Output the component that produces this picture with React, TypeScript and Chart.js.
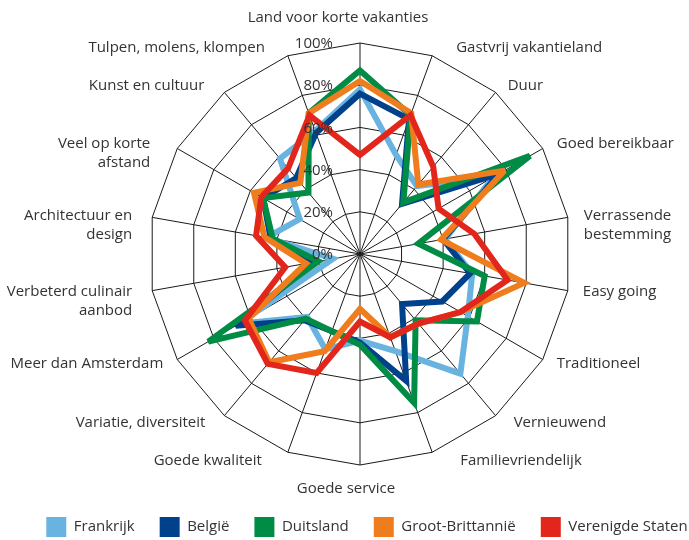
import React, { useEffect, useRef } from "react";
import { Chart, registerables } from "chart.js";

Chart.register(...registerables);

const categories: (string | string[])[] = [
  "Land voor korte vakanties",
  "Gastvrij vakantieland",
  "Duur",
  "Goed bereikbaar",
  ["Verrassende", "bestemming"],
  "Easy going",
  "Traditioneel",
  "Vernieuwend",
  "Familievriendelijk",
  "Goede service",
  "Goede kwaliteit",
  "Variatie, diversiteit",
  "Meer dan Amsterdam",
  ["Verbeterd culinair", "aanbod"],
  ["Architectuur en", "design"],
  ["Veel op korte", "afstand"],
  "Kunst en cultuur",
  "Tulpen, molens, klompen",
];

const tickValues = [0, 20, 40, 60, 80, 100];

const frankrijk = [78, 50, 42, 73, 41, 54, 59, 74, 49, 41, 48, 39, 66, 13, 45, 33, 59, 62];
const belgie = [76, 68, 31, 76, 40, 53, 45, 31, 64, 42, 39, 41, 68, 22, 43, 53, 47, 61];
const duitsland = [87, 70, 32, 93, 28, 60, 64, 41, 75, 43, 39, 40, 83, 20, 42, 53, 38, 71];
const grootBrittannie = [82, 71, 43, 79, 39, 79, 55, 43, 42, 26, 49, 67, 61, 26, 46, 58, 44, 71];
const verenigdeStaten = [47, 70, 54, 43, 55, 71, 55, 43, 42, 32, 60, 68, 63, 36, 50, 54, 53, 70];

const seriesNames = ["Frankrijk", "België", "Duitsland", "Groot-Brittannië", "Verenigde Staten"];
const seriesValues = [frankrijk, belgie, duitsland, grootBrittannie, verenigdeStaten];
const seriesColors = ["#69b3e0", "#00418c", "#008c45", "#ef7d1d", "#e2261c"];

// layout: horizontal gap (px) between outer vertex and its label
const labelGap = [0, 24, 12, 14, 16, 15, 14, 18, 28, 0, 26, 19, 14, 20, 20, 27, 20, 23];

const FONT = "'Open Sans', 'Noto Sans', sans-serif";
const TEXT = "#333333";
const CENTER_X = 360;
const CENTER_Y = 254;
const RADIUS = 211;

const miterPlugin = {
  id: "miterLimit",
  beforeDatasetsDraw(chart: any) {
    chart.ctx.miterLimit = 3;
  },
};

const textPlugin = {
  id: "radarText",
  afterDraw(chart: any) {
    const s = chart.scales.r;
    const ctx = chart.ctx as CanvasRenderingContext2D;
    ctx.save();
    ctx.font = `15px ${FONT}`;
    ctx.fillStyle = TEXT;
    ctx.textBaseline = "middle";
    ctx.textAlign = "right";
    tickValues.forEach((v) => {
      const d = s.getDistanceFromCenterForValue(v);
      ctx.fillText(`${v}%`, s.xCenter - 27, s.yCenter - d + 1);
    });
    const n = categories.length;
    categories.forEach((lab, i) => {
      const lines = Array.isArray(lab) ? lab : [lab];
      const deg = (i * 360) / n;
      const rad = (deg * Math.PI) / 180;
      const p = s.getPointPosition(i, s.drawingArea);
      let x: number;
      let y: number;
      let align: CanvasTextAlign;
      if (deg === 0) {
        align = "center";
        x = p.x - 22;
        y = p.y - 25;
      } else if (deg === 180) {
        align = "center";
        x = p.x - 14;
        y = p.y + 24;
      } else if (deg < 180) {
        align = "left";
        x = p.x + labelGap[i];
        y = p.y - 9 * Math.cos(rad);
      } else {
        align = "right";
        x = p.x - labelGap[i];
        y = p.y - 9 * Math.cos(rad);
      }
      ctx.textAlign = align;
      lines.forEach((ln, k) => ctx.fillText(ln, x, y + k * 19));
    });
    ctx.restore();
  },
};

export default function App() {
  const ref = useRef<HTMLCanvasElement | null>(null);

  useEffect(() => {
    document.body.style.margin = "0";
    if (!ref.current) return;
    // draw order: last series on top -> reverse the dataset array
    const datasets = seriesNames
      .map((name, i) => ({
        label: name,
        data: seriesValues[i],
        borderColor: seriesColors[i],
        backgroundColor: seriesColors[i],
        borderWidth: 6,
        pointRadius: 0,
        pointHoverRadius: 0,
        fill: false,
        tension: 0,
        borderJoinStyle: "miter" as const,
      }))
      .reverse();

    const chart = new Chart(ref.current, {
      type: "radar",
      data: {
        labels: categories.map((c) => (Array.isArray(c) ? c.join(" ") : c)),
        datasets,
      },
      plugins: [miterPlugin, textPlugin],
      options: {
        responsive: false,
        animation: false,
        events: [],
        layout: { padding: { left: 20, right: -25, top: 0, bottom: -7 } },
        scales: {
          r: {
            min: 0,
            max: 100,
            ticks: { stepSize: 20, display: false },
            pointLabels: { display: false },
            grid: { color: "#1a1a1a", lineWidth: 1, circular: false },
            angleLines: { color: "#1a1a1a", lineWidth: 1 },
            afterFit: (scale: any) => {
              scale.xCenter = CENTER_X;
              scale.yCenter = CENTER_Y;
              scale.drawingArea = RADIUS;
            },
          },
        },
        plugins: {
          tooltip: { enabled: false },
          legend: {
            position: "bottom",
            reverse: true,
            labels: {
              boxWidth: 20,
              boxHeight: 20,
              padding: 25,
              color: TEXT,
              font: { family: FONT, size: 15 },
              generateLabels: (c: any) =>
                Chart.defaults.plugins.legend.labels
                  .generateLabels(c)
                  .map((it: any) => ({ ...it, lineWidth: 0, fillStyle: it.strokeStyle })),
            },
          },
        },
      },
    });
    return () => chart.destroy();
  }, []);

  return (
    <div style={{ width: 689, height: 540 }}>
      <canvas ref={ref} width={689} height={540} />
    </div>
  );
}
